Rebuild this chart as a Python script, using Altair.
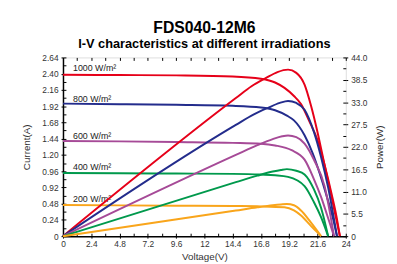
import altair as alt
import pandas as pd

# ---- data ----
series = ["1000 W/m²", "800 W/m²", "600 W/m²", "400 W/m²", "200 W/m²"]
colors = ["#e60019", "#232c8c", "#a64a97", "#00994c", "#f9a51b"]

iv_v_1000 = [0, 4.8, 9.6, 14.4, 16.8, 18.0, 18.8, 19.6, 20.2, 20.9, 21.6, 22.2, 22.8, 23.2, 23.5]
iv_i_1000 = [2.385, 2.38, 2.375, 2.36, 2.325, 2.27, 2.19, 2.07, 1.95, 1.70, 1.42, 1.05, 0.62, 0.30, 0]
iv_v_800 = [0, 4.8, 9.6, 14.4, 16.8, 18.0, 19.0, 19.6, 20.5, 21.2, 21.8, 22.4, 22.9, 23.25]
iv_i_800 = [1.958, 1.95, 1.94, 1.925, 1.90, 1.86, 1.78, 1.71, 1.49, 1.22, 0.92, 0.58, 0.27, 0]
iv_v_600 = [0, 4.8, 9.6, 14.4, 16.8, 18.0, 19.4, 20.5, 21.3, 21.9, 22.4, 23.0]
iv_i_600 = [1.407, 1.40, 1.39, 1.378, 1.365, 1.34, 1.27, 1.13, 0.84, 0.58, 0.32, 0]
iv_v_400 = [0, 4.8, 9.6, 14.4, 16.8, 18.0, 19.1, 20.5, 21.3, 21.9, 22.5]
iv_i_400 = [0.934, 0.93, 0.925, 0.92, 0.91, 0.90, 0.876, 0.74, 0.50, 0.28, 0]
iv_v_200 = [0, 4.8, 9.6, 14.4, 16.8, 18.8, 19.6, 20.2, 21.0, 21.5, 21.9]
iv_i_200 = [0.46, 0.455, 0.45, 0.445, 0.44, 0.426, 0.38, 0.305, 0.16, 0.07, 0]

pw_v_1000 = [0, 14.67, 16.0, 17.2, 18.2, 19.1, 19.8, 20.5, 21.05, 21.6, 22.2, 22.8, 23.5]
pw_p_1000 = [0, 34.0, 36.9, 38.9, 40.4, 41.0, 40.2, 37.3, 32.1, 25.6, 17.5, 9.5, 0]
pw_v_800 = [0, 14.67, 16.2, 17.4, 18.4, 19.1, 19.8, 20.5, 21.3, 21.9, 22.5, 23.25]
pw_p_800 = [0, 27.4, 30.0, 31.6, 32.8, 33.3, 32.8, 31.1, 25.6, 19.5, 12.0, 0]
pw_v_600 = [0, 14.67, 16.5, 17.8, 18.6, 19.1, 19.8, 20.5, 21.3, 22.2, 23.0]
pw_p_600 = [0, 20.0, 22.4, 23.9, 24.6, 24.8, 24.4, 22.8, 18.8, 12.3, 0]
pw_v_400 = [0, 14.67, 16.5, 17.8, 18.5, 19.0, 19.8, 20.5, 21.3, 21.9, 22.5]
pw_p_400 = [0, 13.3, 14.9, 15.9, 16.3, 16.5, 16.1, 15.2, 11.5, 7.0, 0]
pw_v_200 = [0, 14.67, 16.5, 17.8, 18.5, 19.0, 19.6, 20.2, 21.0, 21.5, 21.9]
pw_p_200 = [0, 6.3, 7.1, 7.6, 7.8, 7.9, 7.6, 6.3, 3.5, 1.6, 0]

label_v = [0.85, 0.85, 0.85, 0.85, 0.85]
label_i = [2.48, 2.03, 1.48, 1.02, 0.55]

x_ticks = [0, 2.4, 4.8, 7.2, 9.6, 12, 14.4, 16.8, 19.2, 21.6, 24]
x_labels = ["0", "2.4", "4.8", "7.2", "9.6", "12", "14.4", "16.8", "19.2", "21.6", "24"]
x_minor = [0, 1.2, 2.4, 3.6, 4.8, 6.0, 7.2, 8.4, 9.6, 10.8, 12, 13.2, 14.4, 15.6,
           16.8, 18.0, 19.2, 20.4, 21.6, 22.8, 24]
y_ticks = [0, 0.24, 0.48, 0.72, 0.96, 1.20, 1.44, 1.68, 1.92, 2.16, 2.40, 2.64]
y_labels = ["0", "0.24", "0.48", "0.92", "0.96", "1.20", "1.44", "1.68", "1.92", "2.16", "2.40", "2.64"]
y_minor = [0, 0.12, 0.24, 0.36, 0.48, 0.60, 0.72, 0.84, 0.96, 1.08, 1.20, 1.32, 1.44,
           1.56, 1.68, 1.80, 1.92, 2.04, 2.16, 2.28, 2.40, 2.52, 2.64]
p_ticks = [0, 5.5, 11, 16.5, 22, 27.5, 33, 38.5, 44]
p_labels = ["0", "5.5", "11.0", "16.5", "22.0", "27.5", "33.0", "38.5", "44.0"]
p_minor = [0, 2.75, 5.5, 8.25, 11, 13.75, 16.5, 19.25, 22, 24.75, 27.5, 30.25, 33,
           35.75, 38.5, 41.25, 44]

# ---- tables ----
iv_sets = [(iv_v_1000, iv_i_1000), (iv_v_800, iv_i_800), (iv_v_600, iv_i_600),
           (iv_v_400, iv_i_400), (iv_v_200, iv_i_200)]
pw_sets = [(pw_v_1000, pw_p_1000), (pw_v_800, pw_p_800), (pw_v_600, pw_p_600),
           (pw_v_400, pw_p_400), (pw_v_200, pw_p_200)]
iv_rows, pw_rows = [], []
for k, s in enumerate(series):
    for j, (v, i) in enumerate(zip(*iv_sets[k])):
        iv_rows.append({"s": s, "o": j, "V": v, "I": i})
    for j, (v, p) in enumerate(zip(*pw_sets[k])):
        pw_rows.append({"s": s, "o": j, "V": v, "P": p})
iv_df = pd.DataFrame(iv_rows)
pw_df = pd.DataFrame(pw_rows)
lab_df = pd.DataFrame({"s": series, "V": label_v, "I": label_i})

FONT = "Liberation Sans"
xs = alt.Scale(domain=[0, 24], nice=False, zero=False)
ys = alt.Scale(domain=[0, 2.64], nice=False)
ps = alt.Scale(domain=[0, 44], nice=False)
col = alt.Color("s:N", scale=alt.Scale(domain=series, range=colors), legend=None)

x_expr = "[" + ",".join(f"'{l}'" for l in x_labels) + "][round(datum.value/1.2)/2]"
y_expr = "[" + ",".join(f"'{l}'" for l in y_labels) + "][round(datum.value/0.24)]"
p_expr = "[" + ",".join(f"'{l}'" for l in p_labels) + "][round(datum.value/5.5)]"

common = dict(grid=False, labelFont=FONT, titleFont=FONT, labelColor="#333",
              titleColor="#333", tickColor="black", domainColor="black")

ticks_only = dict(grid=False, labels=False, domain=False, title=None,
                  tickColor="black", tickSize=3, tickWidth=1, offset=-3)

iv_layer = alt.Chart(iv_df).mark_line(strokeWidth=2, interpolate="monotone").encode(
    x=alt.X("V:Q", scale=xs, axis=alt.Axis(orient="bottom", values=x_ticks, labelExpr=x_expr,
            title="Voltage(V)", labelFontSize=8.5, titleFontSize=10, titleFontWeight="normal",
            tickSize=2, labelPadding=2, titlePadding=3, domainWidth=1.5, labelFlush=False, **common)),
    y=alt.Y("I:Q", scale=ys, axis=alt.Axis(orient="left", values=y_ticks, labelExpr=y_expr,
            title="Current(A)", labelFontSize=8.5, titleFontSize=10, titleFontWeight="normal",
            tickSize=2, labelPadding=3, titlePadding=11, domainWidth=1.5, labelFlush=False, **common)),
    color=col,
    order="o:Q",
)

lab_layer = alt.Chart(lab_df).mark_text(align="left", baseline="middle", fontSize=9,
                                        font=FONT, color="#222").encode(
    x=alt.X("V:Q", scale=xs, axis=alt.Axis(orient="bottom", values=x_minor, **ticks_only)),
    y=alt.Y("I:Q", scale=ys, axis=alt.Axis(orient="left", values=y_minor, **ticks_only)),
    text="s:N",
)

pw_layer = alt.Chart(pw_df).mark_line(strokeWidth=2, interpolate="monotone").encode(
    x=alt.X("V:Q", scale=xs, axis=alt.Axis(orient="top", values=x_minor, **ticks_only)),
    y=alt.Y("P:Q", scale=ps, axis=alt.Axis(orient="right", values=p_ticks, labelExpr=p_expr,
            title="Power(W)", labelFontSize=8.5, titleFontSize=10, titleFontWeight="normal",
            titleAngle=270, titleBaseline="top", tickSize=2, labelPadding=3, titlePadding=8,
            domain=False, labelFlush=False, **common)),
    color=col,
    order="o:Q",
)

pw_ticks = alt.Chart(pw_df).mark_point(opacity=0).encode(
    x=alt.X("V:Q", scale=xs, axis=None),
    y=alt.Y("P:Q", scale=ps, axis=alt.Axis(orient="right", values=p_minor, **ticks_only)),
)

chart = alt.layer(iv_layer, lab_layer, pw_layer, pw_ticks).resolve_scale(
    y="independent"
).resolve_axis(
    x="independent", y="independent"
).properties(
    width=288, height=182,
    padding={"left": 56, "top": 48, "right": 44, "bottom": 26},
    autosize=alt.AutoSizeParams(type="none"),
    title=alt.TitleParams(
        text="FDS040-12M6",
        subtitle="I-V characteristics at different irradiations",
        font=FONT, fontSize=16, fontWeight="bold", color="black",
        subtitleFont=FONT, subtitleFontSize=13, subtitleFontWeight="bold",
        subtitleColor="black", subtitlePadding=2, anchor="middle", offset=3,
    ),
).configure_view(stroke="black", strokeWidth=1.5).configure(background="white")

chart.save("out.html", embed_options={"renderer": "svg", "actions": False})
